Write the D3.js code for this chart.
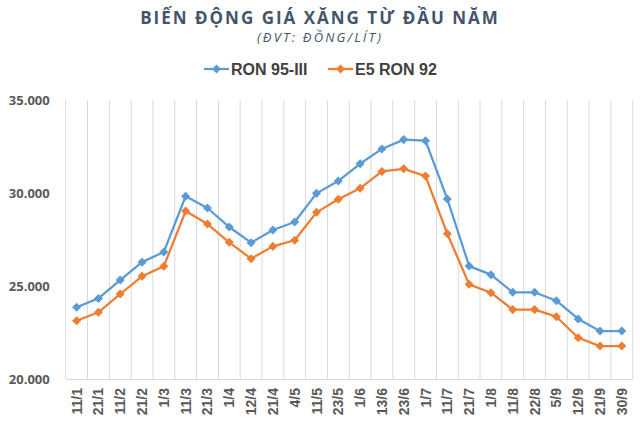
<!DOCTYPE html>
<html>
<head>
<meta charset="utf-8">
<script src="https://cdn.jsdelivr.net/npm/d3@7"></script>
<style>
	body { margin: 0; background: #fff; }
	svg { display: block; }
</style>
</head>
<body>
<div id="chart"></div>
<script>
const categories = ["11/1", "21/1", "11/2", "21/2", "1/3", "11/3", "21/3", "1/4", "12/4", "21/4", "4/5", "11/5", "23/5",
	"1/6", "13/6", "23/6", "1/7", "11/7", "21/7", "1/8", "11/8", "22/8", "5/9", "12/9", "21/9", "30/9"]
const ron95 = [23858, 24333, 25320, 26283, 26830, 29824, 29195, 28170, 27330, 28010, 28440, 29980, 30650,
	31570, 32370, 32870, 32810, 29675, 26070, 25610, 24660, 24660, 24210, 23230, 22580, 22580]
const e5ron92 = [23130, 23586, 24570, 25520, 26060, 29030, 28330, 27350, 26470, 27130, 27460, 28960, 29660,
	30250, 31160, 31300, 30910, 27810, 25090, 24640, 23730, 23730, 23350, 22220, 21770, 21770]
const yTicks = [20000, 25000, 30000, 35000]
const seriesNames = ["RON 95-III", "E5 RON 92"]
const colors = ["#5b9bd5", "#ed7d31"]

const width = 640
const height = 432
const margin = { top: 100, right: 7.3, bottom: 53, left: 65.7 }

const svg = d3.select("#chart").append("svg")
	.attr("width", width)
	.attr("height", height)

svg.append("text")
	.attr("x", 320).attr("y", 24)
	.attr("text-anchor", "middle")
	.style("font-family", "'Open Sans', sans-serif")
	.style("font-weight", "bold")
	.style("font-size", "17px")
	.style("letter-spacing", "2px")
	.attr("fill", "#44546a")
	.text("BIẾN ĐỘNG GIÁ XĂNG TỪ ĐẦU NĂM")

svg.append("text")
	.attr("x", 320).attr("y", 42)
	.attr("text-anchor", "middle")
	.style("font-family", "'Open Sans', sans-serif")
	.style("font-style", "italic")
	.style("font-size", "13px")
	.style("letter-spacing", "2.2px")
	.attr("fill", "#44546a")
	.text("(ĐVT: ĐỒNG/LÍT)")

const x = d3.scaleBand()
	.domain(categories)
	.range([margin.left, width - margin.right])
	.padding(0)
const y = d3.scaleLinear()
	.domain([20000, 35000])
	.range([height - margin.bottom, margin.top])

// vertical gridlines on category boundaries
const bounds = categories.map(c => x(c)).concat([x.range()[1]])
svg.append("g").selectAll("line")
	.data(bounds)
	.enter().append("line")
		.attr("x1", d => d).attr("x2", d => d)
		.attr("y1", y(35000)).attr("y2", y(20000))
		.attr("stroke", "#d9d9d9")
		.attr("stroke-width", 1)

const locale = d3.formatLocale({ decimal: ",", thousands: ".", grouping: [3], currency: ["", ""] })
const fmt = locale.format(",")

const yAxis = svg.append("g")
	.attr("transform", `translate(${margin.left}, 0)`)
	.call(d3.axisLeft(y).tickValues(yTicks).tickSize(0).tickPadding(16).tickFormat(fmt))
yAxis.select(".domain").remove()
yAxis.selectAll("text")
	.style("font-family", "'Open Sans', sans-serif")
	.style("font-weight", "bold")
	.style("font-size", "13px")
	.attr("fill", "#595959")

const xAxis = svg.append("g")
	.attr("transform", `translate(0, ${y(20000)})`)
	.call(d3.axisBottom(x).tickSize(0))
xAxis.select(".domain").attr("stroke", "#d9d9d9")
xAxis.selectAll("text")
	.attr("x", 0).attr("y", 0).attr("dy", "0.36em")
	.attr("transform", "translate(0, 9) rotate(-90)")
	.attr("text-anchor", "end")
	.style("font-family", "'Liberation Sans', Arial, sans-serif")
	.style("font-weight", "bold")
	.style("font-size", "14px")
	.attr("fill", "#595959")

const series = [ron95, e5ron92]
const line = d3.line()
	.x((d, i) => x(categories[i]) + x.bandwidth() / 2)
	.y(d => y(d))
const diamond = d3.symbol().type(d3.symbolDiamond2).size(52)

series.forEach((values, k) => {
	svg.append("path")
		.datum(values)
		.attr("d", line)
		.attr("fill", "none")
		.attr("stroke", colors[k])
		.attr("stroke-width", 2.25)
		.attr("stroke-linejoin", "round")
	svg.append("g").selectAll("path")
		.data(values)
		.enter().append("path")
			.attr("d", diamond)
			.attr("transform", (d, i) => `translate(${x(categories[i]) + x.bandwidth() / 2}, ${y(d)})`)
			.attr("fill", colors[k])
})

// legend
const legendX = [204, 328]
const legend = svg.append("g").attr("transform", "translate(0, 69)")
seriesNames.forEach((name, k) => {
	const g = legend.append("g").attr("transform", `translate(${legendX[k]}, 0)`)
	g.append("line")
		.attr("x1", 0).attr("x2", 25)
		.attr("stroke", colors[k]).attr("stroke-width", 2.25)
	g.append("path")
		.attr("d", diamond)
		.attr("transform", "translate(12.5, 0)")
		.attr("fill", colors[k])
	g.append("text")
		.attr("x", 27).attr("y", 0).attr("dy", "0.36em")
		.style("font-family", "'Liberation Sans', Arial, sans-serif")
		.style("font-weight", "bold")
		.style("font-size", "16px")
		.attr("fill", "#404040")
		.text(name)
})
</script>
</body>
</html>
